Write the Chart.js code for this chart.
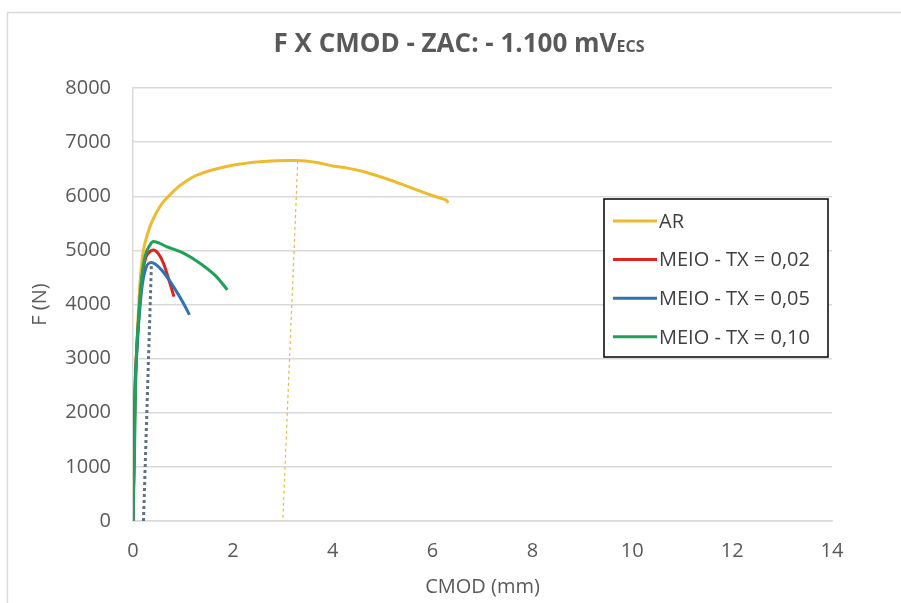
<!DOCTYPE html>
<html>
<head>
<meta charset="utf-8">
<script src="https://cdn.jsdelivr.net/npm/chart.js@4/dist/chart.umd.min.js"></script>
<style>
  html, body { margin: 0; padding: 0; background: #fff; }
  #wrap { width: 901px; height: 603px; position: relative; }
</style>
</head>
<body>
<div id="wrap"><canvas id="c" width="901" height="603"></canvas></div>
<script>
// F x CMOD curves (CMOD in mm, F in N)
const arCmod   = [0, 0.02, 0.05, 0.09, 0.14, 0.21, 0.34, 0.47, 0.61, 0.80, 0.94, 1.28, 1.94, 2.61, 3.28, 3.68, 4.00, 4.30, 4.61, 5.15, 5.68, 6.05, 6.28, 6.31];
const arForce  = [0, 1200, 2500, 3500, 4400, 5009, 5440, 5700, 5900, 6080, 6200, 6390, 6562, 6642, 6660, 6625, 6560, 6520, 6457, 6300, 6118, 5995, 5925, 5875];

// AR unloading line from the peak
const arUnloadCmod  = [3.3, 3.0];
const arUnloadForce = [6650, 0];

const tx02Cmod  = [0, 0.02, 0.04, 0.07, 0.11, 0.17, 0.25, 0.34, 0.41, 0.50, 0.61, 0.74, 0.82];
const tx02Force = [0, 1200, 2400, 3100, 3700, 4400, 4850, 4977, 5009, 4950, 4763, 4393, 4146];

const tx05Cmod  = [0, 0.02, 0.04, 0.07, 0.11, 0.17, 0.25, 0.37, 0.57, 0.81, 1.01, 1.13];
const tx05Force = [0, 1200, 2400, 3000, 3600, 4250, 4650, 4775, 4640, 4331, 4024, 3808];

const tx10Cmod  = [0, 0.03, 0.05, 0.07, 0.11, 0.17, 0.24, 0.34, 0.41, 0.67, 1.01, 1.34, 1.67, 1.89];
const tx10Force = [0, 1250, 2477, 3093, 3715, 4455, 4886, 5101, 5163, 5070, 4948, 4763, 4516, 4270];

// MEIO unloading line
const meioUnloadCmod  = [0.21, 0.37];
const meioUnloadForce = [0, 4775];

const seriesNames = ['AR', 'MEIO - TX = 0,02', 'MEIO - TX = 0,05', 'MEIO - TX = 0,10'];
const xTicks = [0, 2, 4, 6, 8, 10, 12, 14];
const yTicks = [0, 1000, 2000, 3000, 4000, 5000, 6000, 7000, 8000];

const FONT = '"Open Sans", "Liberation Sans", sans-serif';
const TEXT = '#595959';

const pts = (xs, ys) => xs.map((x, i) => ({ x, y: ys[i] }));

const COLORS = { ar: '#ecbb30', tx02: '#e0231e', tx05: '#2e73b4', tx10: '#21a05a', unload: '#5f7082' };

// white page with a thin light frame
const framePlugin = {
  id: 'frame',
  beforeDraw(chart) {
    const ctx = chart.ctx;
    ctx.save();
    ctx.fillStyle = '#fff';
    ctx.fillRect(0, 0, chart.width, chart.height);
    ctx.strokeStyle = '#d9d9d9';
    ctx.lineWidth = 1.5;
    ctx.beginPath();
    ctx.moveTo(7.5, chart.height + 2);
    ctx.lineTo(7.5, 12.5);
    ctx.lineTo(chart.width + 2, 12.5);
    ctx.stroke();
    ctx.restore();
  }
};

// title with a subscript
const titlePlugin = {
  id: 'subTitle',
  afterDraw(chart) {
    const ctx = chart.ctx;
    const main = 'F X CMOD - ZAC: - 1.100 mV';
    const sub = 'ECS';
    ctx.save();
    ctx.fillStyle = TEXT;
    ctx.textBaseline = 'alphabetic';
    const mainFont = 'bold 26px ' + FONT;
    const subFont = 'bold 16px ' + FONT;
    ctx.font = mainFont;
    const w1 = ctx.measureText(main).width;
    ctx.font = subFont;
    const w2 = ctx.measureText(sub).width;
    const cx = 459;
    const x0 = cx - (w1 + w2) / 2;
    const base = 52;
    ctx.font = mainFont;
    ctx.fillText(main, x0, base);
    ctx.font = subFont;
    ctx.fillText(sub, x0 + w1, base);
    ctx.restore();
  }
};

// boxed legend inside the plot area
const boxLegendPlugin = {
  id: 'boxLegend',
  afterDraw(chart) {
    const ctx = chart.ctx;
    const items = chart.data.datasets.filter(d => d.inLegend).sort((a, b) => a.legendIndex - b.legendIndex);
    const bx = 604, by = 199, bw = 224, bh = 158;
    ctx.save();
    ctx.fillStyle = '#fff';
    ctx.fillRect(bx, by, bw, bh);
    ctx.strokeStyle = '#000';
    ctx.lineWidth = 1.5;
    ctx.strokeRect(bx, by, bw, bh);
    ctx.font = '20px ' + FONT;
    ctx.textBaseline = 'middle';
    items.forEach((d, i) => {
      const y = 221 + i * 38.6;
      ctx.strokeStyle = d.borderColor;
      ctx.lineWidth = 3;
      ctx.beginPath();
      ctx.moveTo(613, y);
      ctx.lineTo(657, y);
      ctx.stroke();
      ctx.fillStyle = '#404040';
      ctx.fillText(d.label, 659, y + 1);
    });
    ctx.restore();
  }
};

const lineDs = (label, data, color, order, legendIndex, curve) => Object.assign({
  label, data, borderColor: color, backgroundColor: color,
  borderWidth: 3, pointRadius: 0, showLine: true,
  order, inLegend: true, legendIndex
}, curve);

const MONO = { cubicInterpolationMode: 'monotone' };

new Chart(document.getElementById('c'), {
  type: 'scatter',
  data: {
    datasets: [
      lineDs(seriesNames[0], pts(arCmod, arForce), COLORS.ar, 6, 0, { tension: 0.3 }),
      { label: 'AR unload', data: pts(arUnloadCmod, arUnloadForce), borderColor: COLORS.ar, borderWidth: 1.2,
        borderDash: [3, 3], pointRadius: 0, showLine: true, order: 5 },
      lineDs(seriesNames[1], pts(tx02Cmod, tx02Force), COLORS.tx02, 4, 1, MONO),
      lineDs(seriesNames[2], pts(tx05Cmod, tx05Force), COLORS.tx05, 3, 2, MONO),
      lineDs(seriesNames[3], pts(tx10Cmod, tx10Force), COLORS.tx10, 2, 3, MONO),
      { label: 'MEIO unload', data: pts(meioUnloadCmod, meioUnloadForce), borderColor: COLORS.unload, borderWidth: 3,
        borderDash: [3, 3], pointRadius: 0, showLine: true, order: 1 }
    ]
  },
  options: {
    responsive: false,
    animation: false,
    devicePixelRatio: 1,
    layout: { padding: { left: 0, right: 69, top: 88, bottom: 0 } },
    plugins: { legend: { display: false }, tooltip: { enabled: false }, title: { display: false } },
    scales: {
      x: {
        type: 'linear', min: 0, max: 14,
        afterBuildTicks(scale) { scale.ticks = xTicks.map(v => ({ value: v })); },
        afterFit(scale) { scale.height = 82; },
        grid: { display: false, drawTicks: false },
        border: { display: true, color: '#d9d9d9', width: 1.5 },
        ticks: { color: TEXT, font: { family: FONT, size: 20 }, padding: 18, maxRotation: 0,
                 callback: v => String(v) },
        title: { display: true, text: 'CMOD (mm)', color: TEXT, font: { family: FONT, size: 20 }, padding: { top: 0, bottom: 4 } }
      },
      y: {
        type: 'linear', min: 0, max: 8000,
        afterBuildTicks(scale) { scale.ticks = yTicks.map(v => ({ value: v })); },
        afterFit(scale) { scale.width = 133; },
        grid: { color: '#d9d9d9', lineWidth: 1.5, drawTicks: false },
        border: { display: true, color: '#d9d9d9', width: 1.5 },
        ticks: { color: TEXT, font: { family: FONT, size: 20 }, padding: 22,
                 callback: v => String(v) },
        title: { display: true, text: 'F (N)', color: TEXT, font: { family: FONT, size: 20 }, padding: { top: 28, bottom: 0 } }
      }
    }
  },
  plugins: [framePlugin, titlePlugin, boxLegendPlugin]
});
</script>
</body>
</html>
